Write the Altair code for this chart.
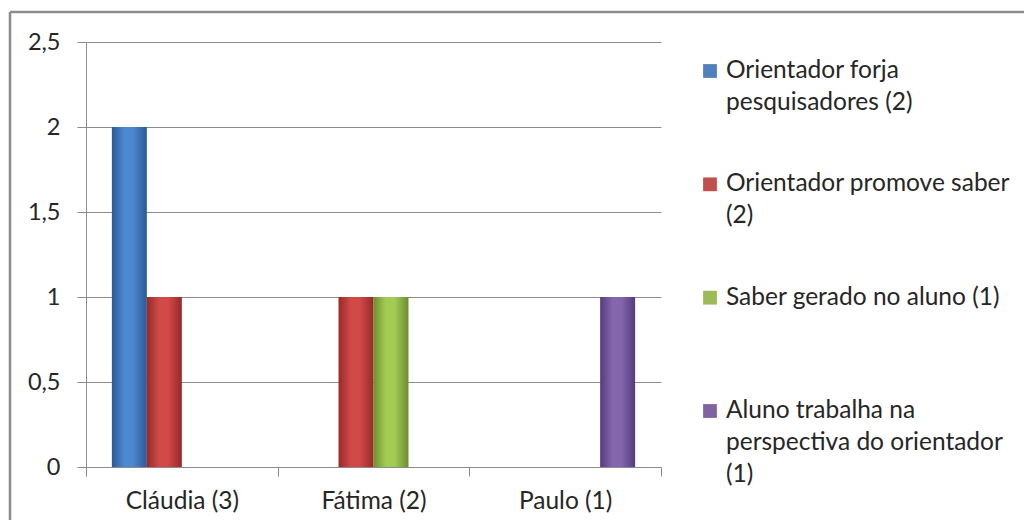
import altair as alt
import pandas as pd

# ---- data ----
categories = ["Cláudia (3)", "Fátima (2)", "Paulo (1)"]
series = [
    "Orientador forja pesquisadores (2)",
    "Orientador promove saber (2)",
    "Saber gerado no aluno (1)",
    "Aluno trabalha na perspectiva do orientador (1)",
]
legend_lines = [
    ["Orientador forja", "pesquisadores (2)"],
    ["Orientador promove saber", "(2)"],
    ["Saber gerado no aluno (1)"],
    ["Aluno trabalha na", "perspectiva do orientador", "(1)"],
]
values_forja = [2, 0, 0]
values_promove = [1, 1, 0]
values_saber = [0, 1, 0]
values_aluno = [0, 0, 1]
y_ticks = [0, 0.5, 1, 1.5, 2, 2.5]

# ---- styles ----
colors = ["#4F81BD", "#C0504D", "#9BBB59", "#8064A2"]
shades = [
    ("#2b5a96", "#4d88d0"),
    ("#962a28", "#d24a47"),
    ("#6c8e2e", "#a3cc55"),
    ("#553c7c", "#8466ac"),
]
FONT = "Lato"
TXT = "#262626"
GRAY = "#8c8c8c"

all_values = [values_forja, values_promove, values_saber, values_aluno]
rows = []
for s, vals in zip(series, all_values):
    for c, v in zip(categories, vals):
        rows.append({"category": c, "series": s, "value": v})
df = pd.DataFrame(rows)

df_leg = pd.DataFrame({
    "series": series,
    "text": ["\n".join(l) for l in legend_lines],
})

x_enc = alt.X(
    "category:N",
    sort=categories,
    scale=alt.Scale(domain=categories, paddingInner=0, paddingOuter=0),
    axis=alt.Axis(
        title=None, labelAngle=0, tickBand="extent", tickSize=9,
        labelPadding=13, labelFont=FONT, labelFontSize=24.5, labelColor=TXT,
        domainColor=GRAY, tickColor=GRAY, grid=False,
    ),
)
xo_enc = alt.XOffset(
    "series:N",
    sort=series,
    scale=alt.Scale(domain=series, paddingInner=0, paddingOuter=0.74),
)
y_enc = alt.Y(
    "value:Q",
    scale=alt.Scale(domain=[0, 2.5], nice=False),
    axis=alt.Axis(
        title=None, values=y_ticks,
        labelExpr="replace(format(datum.value, '~g'), '.', ',')",
        grid=True, gridColor=GRAY, domainColor=GRAY, tickColor=GRAY,
        tickSize=9, labelPadding=17, labelFont=FONT, labelFontSize=23.5,
        labelColor=TXT,
    ),
)

bar_layers = []
for s, (dark, light) in zip(series, shades):
    grad = alt.Gradient(
        gradient="linear",
        stops=[
            alt.GradientStop(color=dark, offset=0),
            alt.GradientStop(color=light, offset=0.35),
            alt.GradientStop(color=light, offset=0.6),
            alt.GradientStop(color=dark, offset=1),
        ],
        x1=0, x2=1, y1=0, y2=0,
    )
    bar_layers.append(
        alt.Chart(df)
        .transform_filter(alt.FieldEqualPredicate(field="series", equal=s))
        .transform_filter("datum.value > 0")
        .mark_bar(color=grad)
        .encode(x=x_enc, xOffset=xo_enc, y=y_enc)
    )
bars = alt.layer(*bar_layers)

leg_y = alt.Y(
    "series:N", sort=series,
    scale=alt.Scale(type="point", domain=series, range=[29, 369], padding=0),
    axis=None,
)
leg_sym = alt.Chart(df_leg).mark_square(size=190, opacity=1).encode(
    x=alt.value(624),
    y=leg_y,
    color=alt.Color("series:N", scale=alt.Scale(domain=series, range=colors), legend=None),
)
leg_txt = alt.Chart(df_leg).mark_text(
    align="left", baseline="line-top", dy=-16, lineHeight=32, lineBreak="\n",
    font=FONT, fontSize=24.5, color=TXT,
).encode(x=alt.value(640), y=leg_y, text="text:N")

frame_df = pd.DataFrame({"k": [0]})
frame_left = alt.Chart(frame_df).mark_rule(color=GRAY, strokeWidth=2.5).encode(
    x=alt.value(-76), y=alt.value(-30), y2=alt.value(478)
)
frame_top = alt.Chart(frame_df).mark_rule(color=GRAY, strokeWidth=2.5).encode(
    x=alt.value(-76), x2=alt.value(938), y=alt.value(-30)
)

side = alt.layer(leg_sym, leg_txt, frame_left, frame_top)

chart = (
    alt.layer(bars, side)
    .resolve_scale(y="independent")
    .properties(
        width=575, height=425,
        padding={"left": 8, "top": 10, "right": 0, "bottom": 0},
        background="white",
    )
    .configure_view(stroke=None)
)

chart.save("out.html", embed_options={"renderer": "svg", "actions": False})
